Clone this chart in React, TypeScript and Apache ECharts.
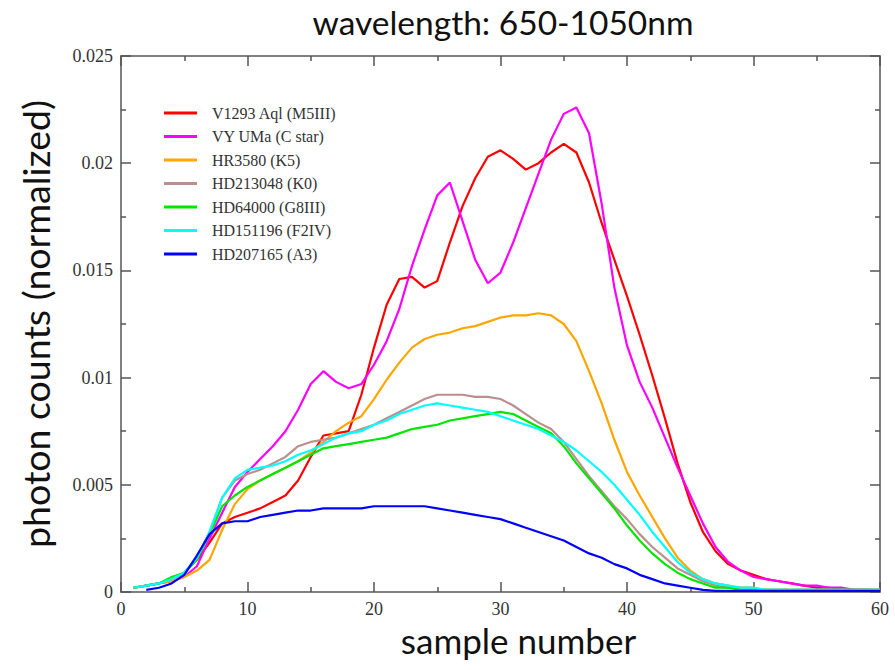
import React, { useEffect, useRef } from "react";
import * as echarts from "echarts";

const sampleNumbers: number[] = Array.from({ length: 60 }, (_, i) => i + 1);

const seriesNames = [
  "V1293 Aql (M5III)",
  "VY UMa (C star)",
  "HR3580 (K5)",
  "HD213048 (K0)",
  "HD64000 (G8III)",
  "HD151196 (F2IV)",
  "HD207165 (A3)",
];

const seriesColors = ["#ff0000", "#ff00ff", "#ffa500", "#bc8f8f", "#00e600", "#00ffff", "#0000ff"];

const redV1293: (number | null)[] = [
  0.0002, 0.0003, 0.0004, 0.0006, 0.0009, 0.0015, 0.0023, 0.0032, 0.0035, 0.0037,
  0.0039, 0.0042, 0.0045, 0.0052, 0.0063, 0.0073, 0.0074, 0.0075, 0.0092, 0.0114,
  0.0134, 0.0146, 0.0147, 0.0142, 0.0145, 0.0163, 0.018, 0.0193, 0.0203, 0.0206,
  0.0202, 0.0197, 0.02, 0.0205, 0.0209, 0.0205, 0.0191, 0.0172, 0.0155, 0.0138,
  0.012, 0.0101, 0.0081, 0.006, 0.0042, 0.0028, 0.0019, 0.0013, 0.001, 0.0008,
  0.0006, 0.0005, 0.0004, 0.0003, 0.0002, 0.0002, 0.0001, 0.0001, 0.0001, 0.00005,
];

const magentaVYUMa: (number | null)[] = [
  0.0002, 0.0003, 0.0004, 0.0005, 0.0007, 0.0012, 0.0025, 0.0037, 0.0049, 0.0056,
  0.0062, 0.0068, 0.0075, 0.0085, 0.0097, 0.0103, 0.0098, 0.0095, 0.0097, 0.0106,
  0.0117, 0.0132, 0.0152, 0.0169, 0.0185, 0.0191, 0.0173, 0.0155, 0.0144, 0.0149,
  0.0163, 0.0179, 0.0195, 0.0211, 0.0223, 0.0226, 0.0214, 0.0181, 0.0142, 0.0115,
  0.0098, 0.0086, 0.0072, 0.0058, 0.0045, 0.0032, 0.0021, 0.0014, 0.001, 0.0007,
  0.0006, 0.0005, 0.0004, 0.0003, 0.0003, 0.0002, 0.0002, 0.0001, 0.0001, 0.0001,
];

const orangeHR3580: (number | null)[] = [
  0.0002, 0.0003, 0.0004, 0.0005, 0.0007, 0.001, 0.0015, 0.0029, 0.0041, 0.0048,
  0.0052, 0.0055, 0.0058, 0.0061, 0.0065, 0.007, 0.0075, 0.0079, 0.0082, 0.009,
  0.0099, 0.0107, 0.0114, 0.0118, 0.012, 0.0121, 0.0123, 0.0124, 0.0126, 0.0128,
  0.0129, 0.0129, 0.013, 0.0129, 0.0125, 0.0117, 0.0103, 0.0088, 0.0071, 0.0056,
  0.0045, 0.0035, 0.0025, 0.0016, 0.001, 0.0006, 0.0004, 0.0003, 0.0002, 0.0002,
  0.0001, 0.0001, 0.0001, 0.0001, 0.0001, 0.0001, 0.0001, 0.0001, 0.0001, 0.0001,
];

const brownHD213048: (number | null)[] = [
  0.0002, 0.0003, 0.0004, 0.0006, 0.0009, 0.0016, 0.0028, 0.0044, 0.0052, 0.0055,
  0.0057, 0.006, 0.0063, 0.0068, 0.007, 0.0071, 0.0072, 0.0074, 0.0076, 0.0078,
  0.0081, 0.0084, 0.0087, 0.009, 0.0092, 0.0092, 0.0092, 0.0091, 0.0091, 0.009,
  0.0087, 0.0083, 0.0079, 0.0076, 0.007, 0.0062, 0.0054, 0.0047, 0.004, 0.0034,
  0.0027, 0.0021, 0.0016, 0.0011, 0.0008, 0.0005, 0.0003, 0.0002, 0.0002, 0.0001,
  0.0001, 0.0001, 0.0001, 0.0001, 0.0001, 0.0001, 0.0001, 0.0001, 0.0001, 0.0001,
];

const greenHD64000: (number | null)[] = [
  0.0002, 0.0003, 0.0004, 0.0007, 0.0009, 0.0015, 0.0027, 0.004, 0.0045, 0.0049,
  0.0052, 0.0055, 0.0058, 0.0061, 0.0064, 0.0067, 0.0068, 0.0069, 0.007, 0.0071,
  0.0072, 0.0074, 0.0076, 0.0077, 0.0078, 0.008, 0.0081, 0.0082, 0.0083, 0.0084,
  0.0083, 0.008, 0.0077, 0.0074, 0.0068, 0.006, 0.0053, 0.0046, 0.0039, 0.0031,
  0.0024, 0.0018, 0.0013, 0.0009, 0.0006, 0.0004, 0.0002, 0.0002, 0.0001, 0.0001,
  0.0001, 0.0001, 0.0001, 0.0001, 0.0001, 0.0001, 0.0001, 0.0001, 0.0001, 0.0001,
];

const cyanHD151196: (number | null)[] = [
  0.0002, 0.0003, 0.0004, 0.0006, 0.0009, 0.0016, 0.0028, 0.0044, 0.0053, 0.0057,
  0.0058, 0.0059, 0.0061, 0.0064, 0.0066, 0.0069, 0.0072, 0.0074, 0.0075, 0.0078,
  0.008, 0.0083, 0.0085, 0.0087, 0.0088, 0.0087, 0.0086, 0.0085, 0.0084, 0.0082,
  0.008, 0.0078, 0.0076, 0.0073, 0.007, 0.0066, 0.0061, 0.0056, 0.005, 0.0043,
  0.0036, 0.0028, 0.0021, 0.0014, 0.0009, 0.0006, 0.0004, 0.0003, 0.0002, 0.0002,
  0.0001, 0.0001, 0.0001, 0.0001, 0.0001, 0.0001, 0.0001, 0.0001, 0.0001, 0.0001,
];

const blueHD207165: (number | null)[] = [
  null, 0.0001, 0.0002, 0.0004, 0.0008, 0.0017, 0.0027, 0.0032, 0.0033, 0.0033,
  0.0035, 0.0036, 0.0037, 0.0038, 0.0038, 0.0039, 0.0039, 0.0039, 0.0039, 0.004,
  0.004, 0.004, 0.004, 0.004, 0.0039, 0.0038, 0.0037, 0.0036, 0.0035, 0.0034,
  0.0032, 0.003, 0.0028, 0.0026, 0.0024, 0.0021, 0.0018, 0.0016, 0.0013, 0.0011,
  0.0008, 0.0006, 0.0004, 0.0003, 0.0002, 0.0001, 0.00005, 0.00005, 0.00005, 0.00005,
  0.00005, 0.00005, 0.00005, 0.00005, 0.00005, 0.00005, 0.00005, 0.00005, 0.00005, 0.00005,
];

const allSeries = [redV1293, magentaVYUMa, orangeHR3580, brownHD213048, greenHD64000, cyanHD151196, blueHD207165];

const titleText = "wavelength: 650-1050nm";
const xAxisName = "sample number";
const yAxisName = "photon counts (normalized)";

export default function App() {
  const ref = useRef<HTMLDivElement>(null);

  useEffect(() => {
    if (!ref.current) return;
    const chart = echarts.init(ref.current, undefined, { renderer: "svg" });
    const axisLineStyle = { color: "#555", width: 1.5 };
    const serif = "'Liberation Serif', 'Times New Roman', serif";
    const sans = "Lato, 'Open Sans', sans-serif";
    const baseX = {
      type: "value" as const,
      min: 0,
      max: 60,
      interval: 10,
      axisLine: { show: true, onZero: false, lineStyle: axisLineStyle },
      axisTick: { show: true, inside: true, length: 10, lineStyle: axisLineStyle },
      minorTick: { show: true, splitNumber: 2, length: 5, lineStyle: axisLineStyle },
      splitLine: { show: false },
    };
    const baseY = {
      type: "value" as const,
      min: 0,
      max: 0.025,
      interval: 0.005,
      axisLine: { show: true, onZero: false, lineStyle: axisLineStyle },
      axisTick: { show: true, inside: true, length: 10, lineStyle: axisLineStyle },
      minorTick: { show: true, splitNumber: 2, length: 5, lineStyle: axisLineStyle },
      splitLine: { show: false },
    };
    chart.setOption({
      animation: false,
      backgroundColor: "#ffffff",
      title: {
        text: titleText,
        left: 498,
        textAlign: "center",
        top: 0,
        textStyle: { fontFamily: sans, fontSize: 33.5, fontWeight: "normal", color: "#111" },
      },
      grid: { left: 121, right: 15, top: 56, bottom: 78, containLabel: false, outerBoundsMode: "none" },
      legend: {
        orient: "vertical",
        left: 159,
        top: 100,
        icon: "rect",
        itemWidth: 33,
        itemHeight: 3,
        itemGap: 7.5,
        textStyle: { fontFamily: serif, fontSize: 16, color: "#333", lineHeight: 16, padding: [0, 0, 0, 10] },
        data: seriesNames,
      },
      xAxis: [
        {
          ...baseX,
          position: "bottom",
          name: xAxisName,
          nameLocation: "middle",
          nameGap: 27,
          nameTextStyle: { fontFamily: sans, fontSize: 35, color: "#111", padding: [0, 0, 0, 36] },
          axisLabel: { fontFamily: serif, fontSize: 18, color: "#333", margin: 8 },
        },
        { ...baseX, position: "top", axisLabel: { show: false } },
      ],
      yAxis: [
        {
          ...baseY,
          position: "left",
          name: yAxisName,
          nameLocation: "middle",
          nameGap: 67,
          nameRotate: 90,
          nameTextStyle: { fontFamily: sans, fontSize: 37.5, color: "#111" },
          axisLabel: { fontFamily: serif, fontSize: 18, color: "#333", margin: 8 },
        },
        { ...baseY, position: "right", axisLabel: { show: false } },
      ],
      series: allSeries.map((vals, si) => ({
        name: seriesNames[si],
        type: "line",
        xAxisIndex: 0,
        yAxisIndex: 0,
        showSymbol: false,
        symbol: "none",
        connectNulls: false,
        lineStyle: { width: 2.2, color: seriesColors[si] },
        itemStyle: { color: seriesColors[si] },
        data: sampleNumbers.map((x, i) => [x, vals[i]]),
      })),
    });
    return () => chart.dispose();
  }, []);

  return <div ref={ref} style={{ width: 895, height: 670, position: "absolute", left: 0, top: 0 }} />;
}
